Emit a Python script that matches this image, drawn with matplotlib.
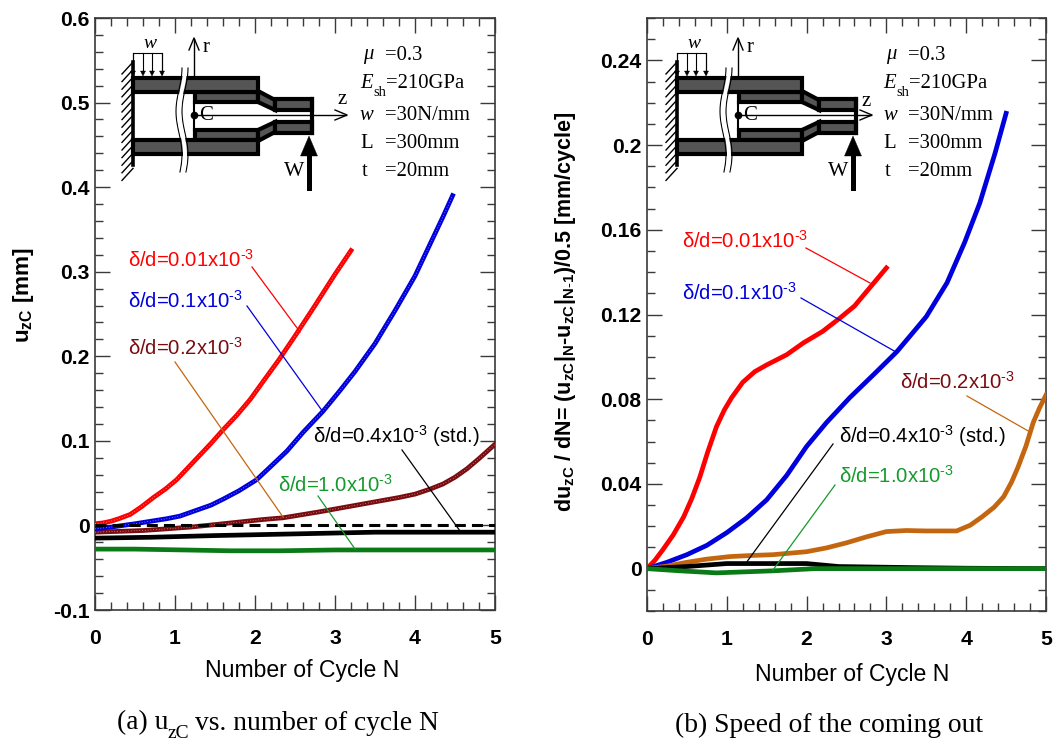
import numpy as np
import matplotlib
matplotlib.use('Agg')
import matplotlib.pyplot as plt
from matplotlib.lines import Line2D
from matplotlib.patches import Polygon

plt.rcParams['font.family'] = ['Liberation Sans', 'DejaVu Sans']
plt.rcParams['mathtext.fontset'] = 'custom'
plt.rcParams['mathtext.rm'] = 'Liberation Sans'
plt.rcParams['mathtext.bf'] = 'Liberation Sans:bold'
plt.rcParams['mathtext.it'] = 'Liberation Sans:italic'

W, H = 1059, 742

# (a) u_zC
a_red_n = [0, .1, .2, .3, .44, .58, .73, .88, 1.02, 1.16, 1.3, 1.45, 1.6, 1.77, 1.94, 2.1, 2.3, 2.5, 2.75, 3, 3.2]
a_red_v = [.002, .003, .005, .008, .013, .022, .033, .043, .054, .068, .082, .097, .113, .130, .149, .17, .196,
           .224, .26, .297, .325]
a_blue_n = [0, .2, .35, .5, .7, .9, 1.06, 1.3, 1.45, 1.6, 1.8, 2.02, 2.2, 2.4, 2.6, 2.85, 3.05, 3.25, 3.5, 3.75,
            4, 4.2, 4.35, 4.47]
a_blue_v = [-.004, -.002, 0, .002, .005, .008, .011, .019, .024, .031, .041, .054, .070, .088, .11, .135, .158,
            .182, .215, .254, .295, .335, .365, .39]
a_dred_n = [0, .3, .6, .9, 1.19, 1.5, 1.8, 2.1, 2.35, 2.8, 3.27, 3.8, 4.0, 4.19, 4.35, 4.5, 4.65, 4.8, 5]
a_dred_v = [-.008, -.007, -.006, -.004, -.002, .001, .004, .007, .009, .016, .024, .033, .037, .043, .049, .057,
            .067, .079, .096]
a_blk_n = [0, 0.7, 1.5, 2.5, 3.5, 5.0]
a_blk_v = [-0.015, -0.014, -0.012, -0.01, -0.008, -0.008]
a_grn_n = [0, 0.5, 1.7, 2.3, 3.0, 5.0]
a_grn_v = [-0.028, -0.028, -0.03, -0.03, -0.029, -0.029]

# (b) speed
b_red_n = [0, .1, .2, .33, .46, .56, .66, .76, .87, .97, 1.06, 1.2, 1.35, 1.5, 1.75, 1.96, 2.2, 2.42, 2.6, 2.8, 3]
b_red_v = [0, .004, .009, .016, .0245, .033, .043, .055, .067, .075, .0807, .088, .093, .0962, .101, .1066, .112,
           .1184, .124, .133, .142]
b_blue_n = [0, .25, .5, .75, 1, 1.25, 1.5, 1.75, 2, 2.25, 2.54, 2.85, 3.13, 3.3, 3.5, 3.76, 3.98, 4.17, 4.36, 4.5]
b_blue_v = [0, .003, .0066, .011, .017, .024, .0325, .044, .0577, .069, .0807, .092, .1024, .11, .119, .135, .154,
            .1726, .196, .215]
b_orng_n = [0, .25, .5, .75, 1.04, 1.3, 1.58, 2, 2.25, 2.5, 2.75, 3, 3.25, 3.5, 3.88, 4.05, 4.2, 4.35, 4.47, 4.57,
            4.65, 4.75, 4.84, 4.92, 5]
b_orng_v = [0, .0012, .003, .0045, .0057, .0062, .0066, .008, .0098, .0122, .015, .0175, .018, .0178, .0178, .0205,
            .0245, .029, .034, .041, .048, .058, .069, .076, .082]
b_blk_n = [0, 0.5, 1.0, 2.0, 2.4, 3.3, 4.0, 5.0]
b_blk_v = [0, 0.001, 0.0024, 0.0024, 0.001, 0.0005, 0.0002, 0]
b_grn_n = [0, 0.4, 0.87, 1.6, 2.1, 3.0, 5.0]
b_grn_v = [0, -0.001, -0.002, -0.001, 0, 0, 0]

RED = '#ff0000'
BLUE = '#0000dc'
DRED = '#7a0c10'
ORNG = '#c4660f'
GRN = '#0a7a16'
GRN_T = '#159a2c'
FRAME = '#3a3a3a'
SERIF = ['Liberation Serif', 'DejaVu Serif']

fig = plt.figure(figsize=(W / 100, H / 100), dpi=100)


def px(x, y):
    return x / W, 1 - y / H


def add_axes(x0, x1, ytop, ybot, ylim, major, minor):
    ax = fig.add_axes([x0 / W, 1 - ybot / H, (x1 - x0) / W, (ybot - ytop) / H])
    ax.set_xlim(0, 5)
    ax.set_ylim(*ylim)
    ax.set_xticks(range(6))
    ax.set_xticks(np.arange(0, 5.01, 0.2), minor=True)
    ax.set_yticks(major)
    ax.set_yticks(minor, minor=True)
    ax.tick_params(which='major', direction='in', length=10.8, width=1, color=FRAME, top=True, right=True,
                   labelsize=15.2)
    ax.tick_params(which='minor', direction='in', length=6, width=1, color=FRAME, top=True, right=True)
    ax.tick_params(axis='x', which='major', pad=14)
    ax.tick_params(axis='y', which='major', pad=4)
    for lab in ax.get_xticklabels() + ax.get_yticklabels():
        lab.set_fontweight('bold')
    for s in ax.spines.values():
        s.set_linewidth(1.2)
        s.set_color(FRAME)
    return ax


def curve(ax, n, v, color, dots=True):
    ax.plot(n, v, color=color, lw=3.4, solid_joinstyle='round', zorder=3)
    if dots:
        ax.plot(n, v, color='white', lw=0.5, ls=(0, (1, 3)), alpha=0.8, zorder=4)


def leader(x0, y0, x1, y1, color):
    fig.add_artist(Line2D([x0 / W, x1 / W], [1 - y0 / H, 1 - y1 / H], color=color, lw=0.9, zorder=5))


def label(x, y, val, color, extra=''):
    fig.text(*px(x, y), '\u03b4/d=' + val + 'x10$^{\\mathrm{\\text{-}3}}$' + extra, color=color,
             fontsize=14.6, va='baseline', ha='left', zorder=6)


def diagram(dx, z_end, z_x, z_y):
    k = 'black'
    dark = '#555555'
    L = lambda xs, ys, lw=1.0, c=k: fig.add_artist(
        Line2D([(x + dx) / W for x in xs], [1 - y / H for y in ys], color=c, lw=lw, zorder=6))

    def poly(pts):
        fig.add_artist(Polygon([px(x + dx, y) for x, y in pts], closed=True, facecolor=dark,
                               edgecolor=k, lw=3, transform=fig.transFigure, zorder=6))
    # tube halves, mirrored about z axis
    for sgn in (1, -1):
        m = lambda y: 116 + sgn * (y - 116)
        poly([(195, m(92)), (258, m(92)), (258, m(102)), (195, m(102))])
        poly([(258, m(91)), (275, m(100)), (275, m(110)), (258, m(102))])
        poly([(275, m(99)), (312, m(99)), (312, m(110)), (275, m(110))])
        poly([(133, m(78)), (258, m(78)), (258, m(92)), (133, m(92))])
    # end cap and section line
    L([312, 312], [99, 133], 3)
    L([194, 194], [102, 130], 1.5)
    # wall
    L([133, 133], [62, 165], 2.6)
    for y in np.arange(62, 170, 7.6):
        L([133, 122], [y, y + 12], 1.0)
    # axes
    L([194, 194], [77, 39], 1.0)
    L([189, 194, 199], [50, 38, 50], 1.0)
    L([194, z_end - 1], [115, 115], 1.0)
    L([z_end - 12, z_end, z_end - 12], [110, 115, 120], 1.0)
    fig.add_artist(Line2D([(194 + dx) / W], [1 - 115 / H], marker='o', ms=4.5, color=k, zorder=7))
    # break in the tube
    t = np.linspace(68, 172, 30)
    wave = 179 + 3 * np.cos((t - 68) / 104 * 2.4 * np.pi)
    fig.add_artist(Polygon([px(x + 1 + dx, y) for x, y in zip(wave, t)] +
                           [px(x + 5 + dx, y) for x, y in zip(wave[::-1], t[::-1])],
                           closed=True, facecolor='white', edgecolor='none',
                           transform=fig.transFigure, zorder=6.5))
    L(wave, t, 0.8)
    L(wave + 6, t, 0.8)
    # distributed load
    L([133, 133, 162, 162], [74, 53, 53, 74], 0.8)
    for x in (133, 143, 152, 162):
        L([x, x], [53, 72], 0.8)
        fig.add_artist(Polygon([px(x - 2.5 + dx, 71), px(x + 2.5 + dx, 71), px(x + dx, 76)], closed=True,
                               facecolor=k, edgecolor=k, lw=0.3, transform=fig.transFigure, zorder=7))
    # W arrow
    L([309, 309], [152, 188], 3.6)
    fig.add_artist(Polygon([px(309 + dx, 136), px(300.5 + dx, 156), px(317.5 + dx, 156)], closed=True,
                           facecolor=k, edgecolor=k, lw=0.3, transform=fig.transFigure, zorder=7))
    T = lambda x, y, s, **kw: fig.text(*px(x + dx, y), s, family=SERIF, va='center', ha='left', zorder=8, **kw)
    T(144, 44, 'w', fontsize=14, style='italic')
    T(203, 47, 'r', fontsize=15)
    T(199, 115, 'C', fontsize=15)
    T(z_x, z_y, 'z', fontsize=15)
    T(284, 171, 'W', fontsize=15.5)


def params(x):
    T = lambda xx, y, s, **kw: fig.text(*px(xx, y), s, family=SERIF, va='center', ha='left', zorder=8,
                                        fontsize=14.9, **kw)
    T(x + 3, 55, '\u03bc', style='italic')
    T(x + 25, 55, '=0.3')
    T(x, 83, 'E', style='italic')
    fig.text(*px(x + 13, 93), 'sh', family=SERIF, va='center', ha='left', fontsize=10.5, zorder=8)
    T(x + 26, 83, '=210GPa')
    T(x, 115, 'w', style='italic')
    T(x + 25, 115, '=30N/mm')
    T(x, 143, 'L')
    T(x + 25, 143, '=300mm')
    T(x + 2, 171, 't')
    T(x + 25, 171, '=20mm')


# panel (a)
ax1 = add_axes(95, 495, 18, 610, (-0.1, 0.6), np.arange(-0.1, 0.61, 0.1), np.arange(-0.1, 0.601, 0.02))
ax1.set_yticklabels(['-0.1', '0', '0.1', '0.2', '0.3', '0.4', '0.5', '0.6'], fontweight='bold')
curve(ax1, a_blk_n, a_blk_v, 'black', dots=False)
curve(ax1, a_grn_n, a_grn_v, GRN, dots=False)
curve(ax1, a_dred_n, a_dred_v, DRED)
curve(ax1, a_blue_n, a_blue_v, BLUE)
curve(ax1, a_red_n, a_red_v, RED)
ax1.axhline(0, color='black', lw=2.2, ls=(0, (3.6, 2.0)), zorder=5)

# panel (b)
ax2 = add_axes(647, 1046, 18, 611, (-0.02, 0.26), np.arange(0, 0.241, 0.04), np.arange(-0.02, 0.2601, 0.01))
ax2.set_yticklabels(['0', '0.04', '0.08', '0.12', '0.16', '0.2', '0.24'], fontweight='bold')
curve(ax2, b_red_n, b_red_v, RED, dots=False)
curve(ax2, b_blue_n, b_blue_v, BLUE, dots=False)
curve(ax2, b_orng_n, b_orng_v, ORNG, dots=False)
curve(ax2, b_blk_n, b_blk_v, 'black', dots=False)
curve(ax2, b_grn_n, b_grn_v, GRN, dots=False)

# curve labels (a)
label(128, 267, '0.01', RED)
leader(252, 267, 300, 332, RED)
label(128, 308, '0.1', BLUE)
leader(247, 306, 323, 412, BLUE)
label(128, 355, '0.2', DRED)
leader(175, 362, 283, 517, ORNG)
label(313, 443, '0.4', 'black', ' (std.)')
leader(402, 450, 460, 531, 'black')
label(278, 492, '1.0', GRN_T)
leader(318, 496, 355, 549, GRN_T)

# curve labels (b)
label(682, 248, '0.01', RED)
leader(806, 248, 870, 283, RED)
label(682, 300, '0.1', BLUE)
leader(801, 298, 896, 352, BLUE)
label(900, 389, '0.2', DRED)
leader(967, 396, 1030, 432, ORNG)
label(839, 443, '0.4', 'black', ' (std.)')
leader(833, 444, 746, 563, 'black')
label(839, 483, '1.0', GRN_T)
leader(835, 485, 773, 570, GRN_T)

# inset sketch and parameters
diagram(0, 347, 338, 100)
diagram(544, 328, 318, 102)
params(360)
params(883)

# axis labels
fig.text(*px(302, 670), 'Number of Cycle N', fontsize=16.6, ha='center', va='center')
fig.text(*px(852, 675), 'Number of Cycle N', fontsize=16.6, ha='center', va='center')
fig.text(*px(24, 295), 'u$_{\\mathbf{zC}}$ [mm]', fontsize=16.2, fontweight='bold', rotation=90,
         ha='center', va='center')
fig.text(*px(565, 312), 'du$_{\\mathbf{zC}}$ / dN= (u$_{\\mathbf{zC}}$|$_{\\mathbf{N}}$-u$_{\\mathbf{zC}}$|'
         '$_{\\mathbf{N\\text{-}1}}$)/0.5 [mm/cycle]', fontsize=15.5, fontweight='bold', rotation=90,
         ha='center', va='center')

# captions
fig.text(*px(117, 723), '(a) u', family=SERIF, fontsize=19.8, ha='left', va='center')
fig.text(*px(168, 733), 'zC', family=SERIF, fontsize=14, ha='left', va='center')
fig.text(*px(195, 723), 'vs. number of cycle N', family=SERIF, fontsize=19.8, ha='left', va='center')
fig.text(*px(675, 725), '(b) Speed of the coming out', family=SERIF, fontsize=19.8, ha='left', va='center')

fig.savefig('out.png', dpi=100)
